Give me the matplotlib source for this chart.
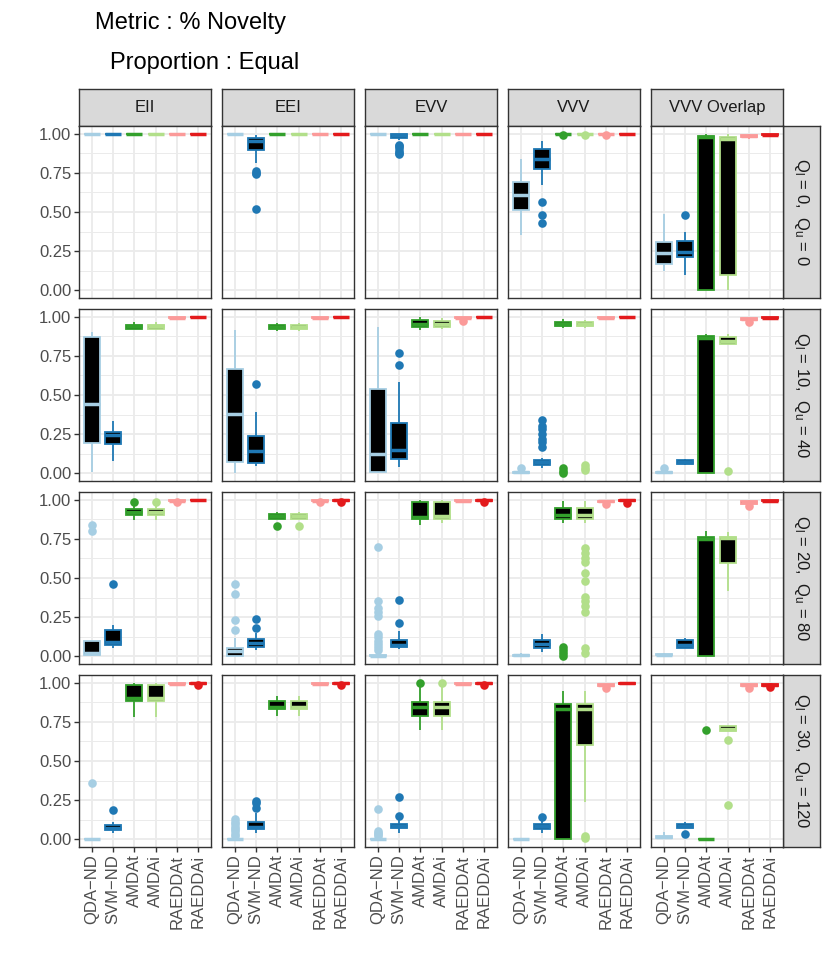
import matplotlib.pyplot as plt
from matplotlib.ticker import FixedLocator

plt.rcParams['font.family'] = ['Liberation Sans', 'DejaVu Sans']
plt.rcParams['mathtext.default'] = 'regular'

methods = ["QDA\u2212ND", "SVM\u2212ND", "AMDAt", "AMDAi", "RAEDDAt", "RAEDDAi"]
models = ["EII", "EEI", "EVV", "VVV", "VVV Overlap"]
row_labels = [r"$Q_l$ = 0,  $Q_u$ = 0", r"$Q_l$ = 10,  $Q_u$ = 40",
              r"$Q_l$ = 20,  $Q_u$ = 80", r"$Q_l$ = 30,  $Q_u$ = 120"]
colors = ["#A6CEE3", "#1F78B4", "#33A02C", "#B2DF8A", "#FB9A99", "#E31A1C"]

# box stats, one list per model (EII, EEI, EVV, VVV, VVV Overlap), 6 methods each
# row 1: Q_l = 0, Q_u = 0
r1_lo = [[1, 1, 1, 1, 1, 1], [1, .815, 1, 1, 1, 1], [1, .96, 1, 1, 1, 1],
         [.35, .675, 1, 1, 1, 1], [.125, .095, 0, 0, .97, .99]]
r1_q1 = [[1, 1, 1, 1, 1, 1], [1, .895, 1, 1, 1, 1], [1, .975, 1, 1, 1, 1],
         [.51, .775, 1, 1, 1, 1], [.17, .21, 0, .095, .98, .99]]
r1_med = [[1, 1, 1, 1, 1, 1], [1, .955, 1, 1, 1, 1], [1, .99, 1, 1, 1, 1],
          [.61, .84, 1, 1, 1, 1], [.24, .245, .98, .97, .985, .995]]
r1_q3 = [[1, 1, 1, 1, 1, 1], [1, .975, 1, 1, 1, 1], [1, 1, 1, 1, 1, 1],
         [.69, .9, 1, 1, 1, 1], [.31, .315, .985, .98, .99, 1]]
r1_hi = [[1, 1, 1, 1, 1, 1], [1, .99, 1, 1, 1, 1], [1, 1, 1, 1, 1, 1],
         [.84, .955, 1, 1, 1, 1], [.485, .375, 1, 1, 1, 1]]
r1_out = [[[], [], [], [], [], []],
          [[], [.76, .75, .74, .52], [], [], [], []],
          [[], [.93, .92, .91, .89, .88, .87], [], [], [], []],
          [[], [.565, .48, .43], [.99], [.99], [.99], []],
          [[], [.48], [], [], [], []]]

# row 2: Q_l = 10, Q_u = 40
r2_lo = [[.005, .08, .92, .92, .99, 1], [0, .045, .91, .91, .99, 1], [0, .038, .915, .92, .98, 1],
         [0, .03, .93, .93, .99, 1], [0, .055, 0, .826, .98, .99]]
r2_q1 = [[.19, .185, .925, .925, .99, 1], [.072, .068, .925, .925, .99, 1], [.008, .089, .935, .935, .99, 1],
         [0, .055, .94, .94, .99, 1], [0, .06, 0, .826, .98, .99]]
r2_med = [[.445, .245, .94, .94, .995, 1], [.38, .14, .935, .935, .995, 1], [.12, .146, .955, .955, .995, 1],
          [.005, .07, .955, .955, .995, 1], [.005, .07, .865, .848, .985, .995]]
r2_q3 = [[.87, .265, .95, .95, 1, 1], [.665, .24, .945, .945, 1, 1], [.54, .32, .98, .975, 1, 1],
         [.01, .087, .965, .965, 1, 1], [.01, .085, .875, .873, .99, 1]]
r2_hi = [[.9, .335, .97, .97, 1, 1], [.915, .39, .96, .96, 1, 1], [.935, .585, 1, .99, 1, 1],
         [.02, .1, .985, .98, 1, 1], [.02, .09, .89, .89, .995, 1]]
r2_out = [[[], [], [], [], [], []],
          [[], [.57], [], [], [], []],
          [[], [.77, .695], [], [], [.975], []],
          [[.03], [.34, .3, .28, .25, .22, .2, .17], [.03, .015, 0], [.05, .035, .02], [], []],
          [[.03], [], [], [.013], [.965], []]]

# row 3: Q_l = 20, Q_u = 80
r3_lo = [[0, .053, .87, .87, .985, 1], [0, .038, .875, .875, .985, .99], [0, .047, .84, .85, .99, .99],
         [0, .026, .85, .85, .98, .99], [.005, .055, 0, .415, .965, .99]]
r3_q1 = [[.005, .074, .905, .905, .99, 1], [0, .057, .88, .88, .99, .995], [0, .06, .88, .88, .99, .995],
         [0, .053, .88, .88, .985, .995], [.005, .053, 0, .595, .975, .99]]
r3_med = [[.02, .09, .925, .925, .995, 1], [.035, .085, .895, .895, .995, 1], [0, .074, .89, .895, .995, 1],
          [.005, .08, .905, .905, .99, 1], [.01, .074, .75, .755, .985, .995]]
r3_q3 = [[.1, .17, .94, .94, 1, 1], [.053, .11, .91, .91, 1, 1], [.01, .106, .985, .985, 1, 1],
         [.01, .106, .945, .945, .995, 1], [.015, .102, .762, .762, .99, 1]]
r3_hi = [[.1, .2, .96, .96, 1, 1], [.117, .15, .925, .925, 1, 1], [.02, .16, 1, 1, 1, 1],
         [.02, .14, .99, .99, 1, 1], [.02, .117, .8, .795, 1, 1]]
r3_out = [[[.84, .8], [.46], [.985], [.985], [.985], []],
          [[.46, .4, .23, .17], [.24, .18], [.83], [.83], [.985], [.985]],
          [[.7, .35, .31, .28, .26, .14, .12, .1, .08, .06, .04], [.36, .21], [], [], [], [.985]],
          [[], [], [.06, .04, .02, 0],
           [.69, .66, .63, .6, .53, .48, .38, .35, .32, .28, .05, .02], [.975], [.98]],
          [[], [], [], [], [.96], []]]

# row 4: Q_l = 30, Q_u = 120
r4_lo = [[0, .042, .78, .78, .99, .99], [0, .038, .79, .79, .99, .99], [0, .04, .7, .7, .99, .99],
         [0, .038, 0, .237, .975, .995], [.01, .07, 0, .695, .975, .975]]
r4_q1 = [[0, .057, .886, .886, .99, .995], [0, .064, .83, .83, .99, .995], [0, .072, .79, .79, .99, .995],
         [0, .064, 0, .604, .98, .995], [.01, .07, 0, .695, .98, .98]]
r4_med = [[0, .074, .9, .9, .995, 1], [0, .078, .848, .848, .995, 1], [0, .085, .845, .845, .995, 1],
          [0, .085, .83, .83, .985, 1], [.015, .085, 0, .706, .985, .985]]
r4_q3 = [[0, .091, .985, .985, 1, 1], [0, .112, .886, .886, 1, 1], [0, .1, .877, .877, 1, 1],
         [0, .1, .862, .862, .99, 1], [.02, .1, 0, .727, .99, .99]]
r4_hi = [[0, .112, 1, 1, 1, 1], [0, .17, .915, .915, 1, 1], [0, .125, .975, .975, 1, 1],
         [0, .12, .95, .95, .995, 1], [.045, .11, 0, .73, 1, .995]]
r4_out = [[[.36], [.185], [], [], [], [.985]],
          [[.13, .11, .095, .08, .065, .05, .035, .02], [.245, .23, .2], [], [], [], [.985]],
          [[.19, .05, .04, .03, .02], [.27, .15], [1.0], [1.0], [], [.985]],
          [[], [.145], [], [.02, .005], [.965], []],
          [[], [.03], [.7], [.636, .218], [.97], [.975]]]

rows = [(r1_lo, r1_q1, r1_med, r1_q3, r1_hi, r1_out),
        (r2_lo, r2_q1, r2_med, r2_q3, r2_hi, r2_out),
        (r3_lo, r3_q1, r3_med, r3_q3, r3_hi, r3_out),
        (r4_lo, r4_q1, r4_med, r4_q3, r4_hi, r4_out)]

W, H = 830, 969
fig = plt.figure(figsize=(W / 100, H / 100), dpi=100)


def px_axes(x, y, w, h):
    return fig.add_axes([x / W, 1 - (y + h) / H, w / W, h / H])


col_x = [79, 222, 365, 508, 651]
row_y = [126, 309, 492, 675]
pw, ph = 132, 172
border = "#333333"
strip_bg = "#D9D9D9"


def strip(x, y, w, h, label, rot=0):
    s = px_axes(x, y, w, h)
    s.set_facecolor(strip_bg)
    s.set_xticks([])
    s.set_yticks([])
    for sp in s.spines.values():
        sp.set_color(border)
        sp.set_linewidth(1.0)
    s.text(0.5, 0.5, label, transform=s.transAxes, ha="center", va="center",
           fontsize=12, color="#1A1A1A", rotation=rot)


for j, m in enumerate(models):
    strip(col_x[j], 89, pw, 37, m)
for i, lab in enumerate(row_labels):
    strip(col_x[-1] + pw, row_y[i], 37, ph, lab, rot=270)

for i, (lo, q1, med, q3, hi, out) in enumerate(rows):
    for j in range(len(models)):
        ax = px_axes(col_x[j], row_y[i], pw, ph)
        stats = [dict(whislo=lo[j][k], q1=q1[j][k], med=med[j][k], q3=q3[j][k],
                      whishi=hi[j][k], fliers=out[j][k]) for k in range(6)]
        art = ax.bxp(stats, positions=range(1, 7), widths=0.75, patch_artist=True,
                     showcaps=False)
        for k, c in enumerate(colors):
            art["boxes"][k].set(facecolor="black", edgecolor=c, linewidth=1.3)
            art["medians"][k].set(color=c, linewidth=2.5, solid_capstyle="butt")
            for wl in art["whiskers"][2 * k:2 * k + 2]:
                wl.set(color=c, linewidth=1.3, solid_capstyle="butt")
            art["fliers"][k].set(marker="o", markerfacecolor=c, markeredgecolor=c,
                                 markersize=6.2, markeredgewidth=0)

        ax.set_xlim(0.4, 6.6)
        ax.set_ylim(-0.05, 1.05)
        ax.set_facecolor("white")
        ax.set_axisbelow(True)
        ax.set_xticks(range(1, 7))
        ax.set_yticks([0, 0.25, 0.5, 0.75, 1.0])
        ax.yaxis.set_minor_locator(FixedLocator([0.125, 0.375, 0.625, 0.875]))
        ax.grid(True, which="major", color="#EBEBEB", linewidth=1.3)
        ax.grid(True, which="minor", axis="y", color="#EBEBEB", linewidth=0.7)
        for sp in ax.spines.values():
            sp.set_color(border)
            sp.set_linewidth(1.0)
        ax.tick_params(which="minor", length=0)
        ax.tick_params(which="major", length=3.5, width=1.0, color=border,
                       labelsize=12, labelcolor="#4D4D4D", pad=2)
        if j == 0:
            ax.set_yticklabels(["0.00", "0.25", "0.50", "0.75", "1.00"])
        else:
            ax.tick_params(axis="y", length=0, labelleft=False)
        if i == len(rows) - 1:
            ax.set_xticklabels(methods, rotation=90)
        else:
            ax.tick_params(axis="x", length=0, labelbottom=False)

fig.text(95 / W, 1 - 28.5 / H, "Metric : % Novelty", fontsize=17, color="black",
         ha="left", va="baseline")
fig.text(110 / W, 1 - 68.5 / H, "Proportion : Equal", fontsize=17, color="black",
         ha="left", va="baseline")

fig.savefig("out.png", dpi=100)
